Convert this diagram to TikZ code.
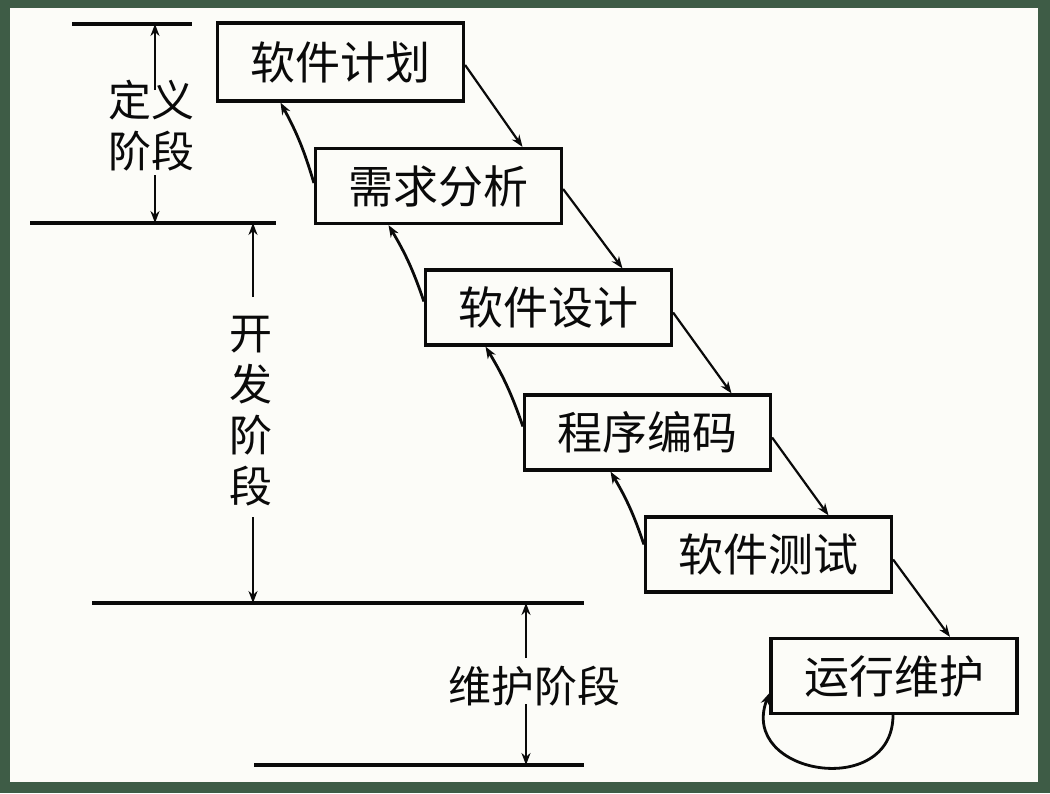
\documentclass[tikz,border=0pt]{standalone}
\usepackage{fontspec}
\newfontfamily\cjk{Noto Sans CJK SC}
\usetikzlibrary{arrows.meta}
\definecolor{framegreen}{RGB}{62,92,70}
\definecolor{paper}{RGB}{252,252,248}
\definecolor{ink}{RGB}{10,10,10}
\begin{document}
\begin{tikzpicture}[x=1pt,y=-1pt,
  stagebox/.style={draw=ink,line width=3.2pt,minimum width=246pt,minimum height=75pt,inner sep=0pt,
    font=\cjk\fontsize{45pt}{52pt}\selectfont,text=ink},
  stagetext/.style={inner sep=0pt,font=\cjk\fontsize{43pt}{51pt}\selectfont,text=ink,align=center},
  rule/.style={draw=ink,line width=3.2pt},
  dimarrow/.style={draw=ink,line width=2.6pt,-{Stealth[length=12pt,width=9pt]}},
  fwd/.style={draw=ink,line width=2.2pt,-{Stealth[length=12pt,width=9pt]}},
  back/.style={draw=ink,line width=2.8pt,-{Stealth[length=12pt,width=9pt]}}]
\useasboundingbox (0,0) rectangle (1050,793);
\fill[framegreen] (0,0) rectangle (1050,793);
\fill[paper] (10,8) rectangle (1038,782);

% boxes
\node[stagebox,minimum height=78pt] (b1) at (340.5,62) {软件计划};
\node[stagebox] (b2) at (438.5,186) {需求分析};
\node[stagebox] (b3) at (548.5,307.5) {软件设计};
\node[stagebox] (b4) at (647.5,432.5) {程序编码};
\node[stagebox] (b5) at (768.5,554.5) {软件测试};
\node[stagebox] (b6) at (894,676) {运行维护};

% forward arrows
\draw[fwd] ([yshift=-3pt]b1.east) -- ([xshift=84pt]b2.north);
\draw[fwd] ([yshift=-3pt]b2.east) -- ([xshift=74pt]b3.north);
\draw[fwd] ([yshift=-5pt]b3.east) -- ([xshift=84pt]b4.north);
\draw[fwd] ([yshift=-5pt]b4.east) -- ([xshift=60pt]b5.north);
\draw[fwd] ([yshift=-5pt]b5.east) -- ([xshift=56pt]b6.north);

% backward arrows
\draw[back] ([yshift=3pt]b2.west) to[bend right=6] ([xshift=-60pt]b1.south);
\draw[back] ([yshift=6pt]b3.west) to[bend right=6] ([xshift=-50pt]b2.south);
\draw[back] ([yshift=6pt]b4.west) to[bend right=6] ([xshift=-63pt]b3.south);
\draw[back] ([yshift=10pt]b5.west) to[bend right=6] ([xshift=-37pt]b4.south);

% self loop
\draw[back] ([xshift=-1pt]b6.south) .. controls (893,800) and (738,775) .. ([yshift=-17pt]b6.west);

% horizontal rules
\coordinate (r1a) at (72,24);  \coordinate (r1b) at (192,24);
\coordinate (r2a) at (30,223); \coordinate (r2b) at (276,223);
\coordinate (r3a) at (92,603); \coordinate (r3b) at (584,603);
\coordinate (r4a) at (254,765); \coordinate (r4b) at (584,765);
\draw[rule] (r1a) -- (r1b);
\draw[rule] (r2a) -- (r2b);
\draw[rule] (r3a) -- (r3b);
\draw[rule] (r4a) -- (r4b);

% stage labels
\node[stagetext] (s1) at (151,126) {定义\\阶段};
\node[stagetext] (s2) at (251,411) {开\\发\\阶\\段};
\node[stagetext] (s3) at (534,686) {维护阶段};

\coordinate (t1) at (155,24);  \coordinate (u1) at (155,90);
\coordinate (t2) at (155,223); \coordinate (v1) at (155,175);
\coordinate (t3) at (253,223); \coordinate (u2) at (253,297);
\coordinate (t4) at (253,603); \coordinate (v2) at (253,517);
\coordinate (t5) at (526,603); \coordinate (u3) at (526,658);
\coordinate (t6) at (526,765); \coordinate (v3) at (526,704);
\draw[dimarrow] (u1) -- (t1);
\draw[dimarrow] (v1) -- (t2);
\draw[dimarrow] (u2) -- (t3);
\draw[dimarrow] (v2) -- (t4);
\draw[dimarrow] (u3) -- (t5);
\draw[dimarrow] (v3) -- (t6);
\end{tikzpicture}
\end{document}
